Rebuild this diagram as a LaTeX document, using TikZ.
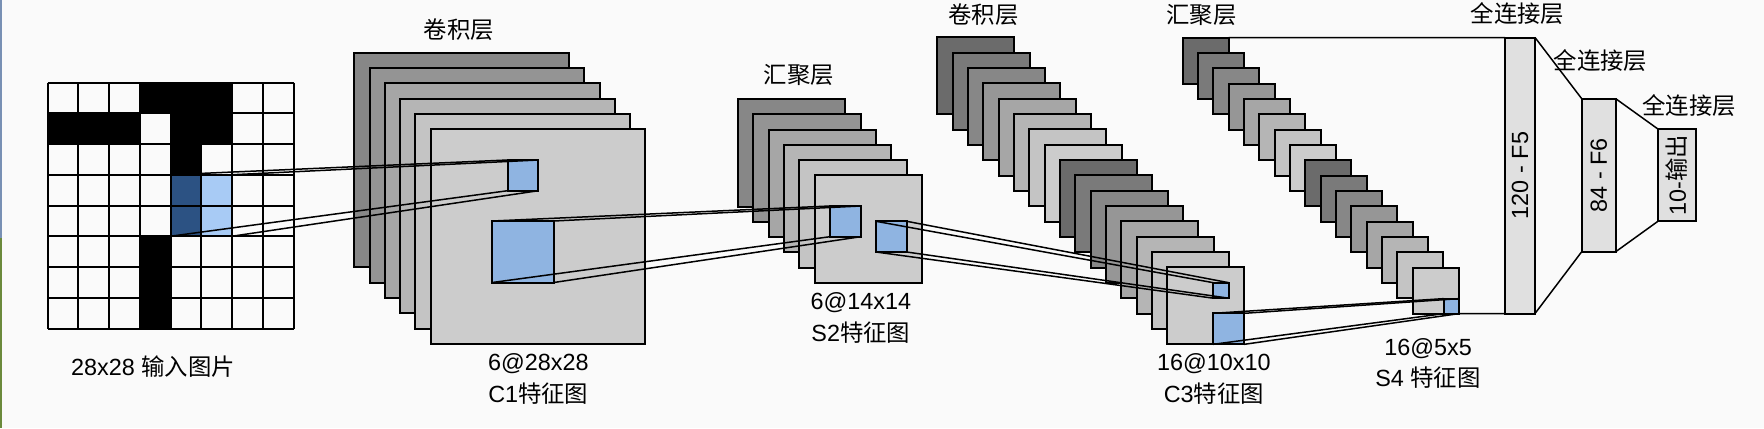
\documentclass[tikz,border=0pt]{standalone}
\usepackage{fontspec}
\setmainfont{Liberation Sans}
\newfontfamily\cjk{Noto Sans CJK SC}
\newcommand\zh[1]{{\cjk #1}}
\usepackage{xcolor}
\usepackage{tikz}

\definecolor{bg}{HTML}{FAFAFA}
\definecolor{fieldblue}{HTML}{8FB4E1}
\definecolor{darkfield}{HTML}{2C5283}
\definecolor{lightfield}{HTML}{A8CBF5}
\definecolor{fcgray}{HTML}{E0E0E0}
\definecolor{edgeblue}{HTML}{7890B4}
\definecolor{edgegreen}{HTML}{6B8A3C}

\tikzset{
  fmap/.style={draw, line width=1pt, inner sep=0pt, outer sep=0pt,
    minimum size=#1, anchor=north west},
  patch/.style={fmap=#1, fill=fieldblue},
  fcbox/.style={draw, line width=1pt, fill=fcgray, inner sep=0pt, outer sep=0pt,
    anchor=north west, font=\fontsize{11.7}{14}\selectfont},
  link/.style={line width=0.75pt},
  lbl/.style={font=\fontsize{11.7}{15.8}\selectfont, align=center, inner sep=0pt},
}

\begin{document}
\begin{tikzpicture}[x=0.5pt,y=-0.5pt]
  % canvas
  \fill[bg] (0,0) rectangle (1764,428);
  \useasboundingbox (0,0) rectangle (1764,428);
  \fill[edgeblue] (0,0) rectangle (2,238);
  \fill[edgegreen] (0,238) rectangle (2,428);

  % input image
  \foreach \c/\r in {3/0,4/0,5/0,0/1,1/1,2/1,4/1,5/1,4/2,3/5,3/6,3/7}
    \fill ({47.5+\c*30.75},{82.5+\r*30.75}) rectangle ++(30.75,30.75);
  \foreach \r in {3,4} {
    \fill[darkfield] ({47.5+4*30.75},{82.5+\r*30.75}) rectangle ++(30.75,30.75);
    \fill[lightfield] ({47.5+5*30.75},{82.5+\r*30.75}) rectangle ++(30.75,30.75);
  }
  \foreach \i in {0,...,8} {
    \draw[line width=1pt] ({47.5+\i*30.75},82.5) -- ++(0,246);
    \draw[line width=1pt] (47.5,{82.5+\i*30.75}) -- ++(246,0);
  }
  \node[fmap=30.75pt, draw=none] (rf) at (170.5,174.75) {};
  \node[lbl] (inlbl) at (153,367) {28x28 \zh{输入图片}};

  % C1
  \foreach \g [count=\i from 0] in {47,42,35,29,23,20}
    \node[fmap=107.35pt, fill=black!\g] (c1-\i) at ({354.3+\i*15.28},{52.7+\i*15.28}) {};
  \node[patch=15.35pt] (c1s) at (507.7,160) {};
  \node[patch=30.75pt] (c1b) at (492.3,221) {};

  % S2
  \foreach \g [count=\i from 0] in {47,42,35,29,23,20}
    \node[fmap=53.75pt, fill=black!\g] (s2-\i) at ({737.7+\i*15.4},{99+\i*15.26}) {};
  \node[patch=15.35pt] (s2a) at (830,206) {};
  \node[patch=15.35pt] (s2b) at (876,221.3) {};

  % C3
  \foreach \g [count=\i from 0] in {58,52,47,41,35,29,23,20,58,52,47,41,35,29,23,20}
    \node[fmap=38.5pt, fill=black!\g] (c3-\i) at ({937.3+\i*15.33},{37.3+\i*15.33}) {};
  \node[patch=7.75pt] (c3s) at (1213.3,282.7) {};
  \node[patch=15.5pt] (c3b) at (1213.3,313.3) {};

  % S4
  \foreach \g [count=\i from 0] in {58,52,47,41,35,29,23,20,58,52,47,41,35,29,23,20}
    \node[fmap=23pt, fill=black!\g] (s4-\i) at ({1182.7+\i*15.33},{37.7+\i*15.33}) {};
  \node[patch=7.5pt] (s4s) at (1443.65,298.65) {};

  % fully connected
  \node[fcbox, minimum width=15pt, minimum height=138pt] (f5) at (1505,37.5) {\rotatebox{90}{120 - F5}};
  \node[fcbox, minimum width=17pt, minimum height=76.5pt] (f6) at (1581.7,98.7) {\rotatebox{90}{84 - F6}};
  \node[fcbox, minimum width=18.7pt, minimum height=45.85pt] (out) at (1658.3,129.3) {\rotatebox{90}{10-\zh{输出}}};

  % receptive fields
  \foreach \a in {north west,north east,south west,south east} {
    \draw[link] (rf.\a) -- (c1s.\a);
    \draw[link] (c1b.\a) -- (s2a.\a);
    \draw[link] (s2b.\a) -- (c3s.\a);
    \draw[link] (c3b.\a) -- (s4s.\a);
  }
  \draw[link] (s4-0.north east) -- (f5.north west);
  \draw[link] (s4-15.south east) -- (f5.south west);
  \draw[link] (f5.north east) -- (f6.north west);
  \draw[link] (f5.south east) -- (f6.south west);
  \draw[link] (f6.north east) -- (out.north west);
  \draw[link] (f6.south east) -- (out.south west);

  % labels
  \node[lbl] (t1) at (459,30) {\zh{卷积层}};
  \node[lbl] (m1) at (538.3,379) {6@28x28\\C1\zh{特征图}};
  \node[lbl] (t2) at (799,75) {\zh{汇聚层}};
  \node[lbl] (m2) at (860.8,318) {6@14x14\\S2\zh{特征图}};
  \node[lbl] (t3) at (983.3,15) {\zh{卷积层}};
  \node[lbl] (m3) at (1213.8,379) {16@10x10\\C3\zh{特征图}};
  \node[lbl] (t4) at (1201.3,15) {\zh{汇聚层}};
  \node[lbl] (m4) at (1428,363.3) {16@5x5\\S4 \zh{特征图}};
  \node[lbl] (t5) at (1517.5,14) {\zh{全连接层}};
  \node[lbl] (t6) at (1600.5,60.7) {\zh{全连接层}};
  \node[lbl] (t7) at (1689,106) {\zh{全连接层}};
\end{tikzpicture}
\end{document}
